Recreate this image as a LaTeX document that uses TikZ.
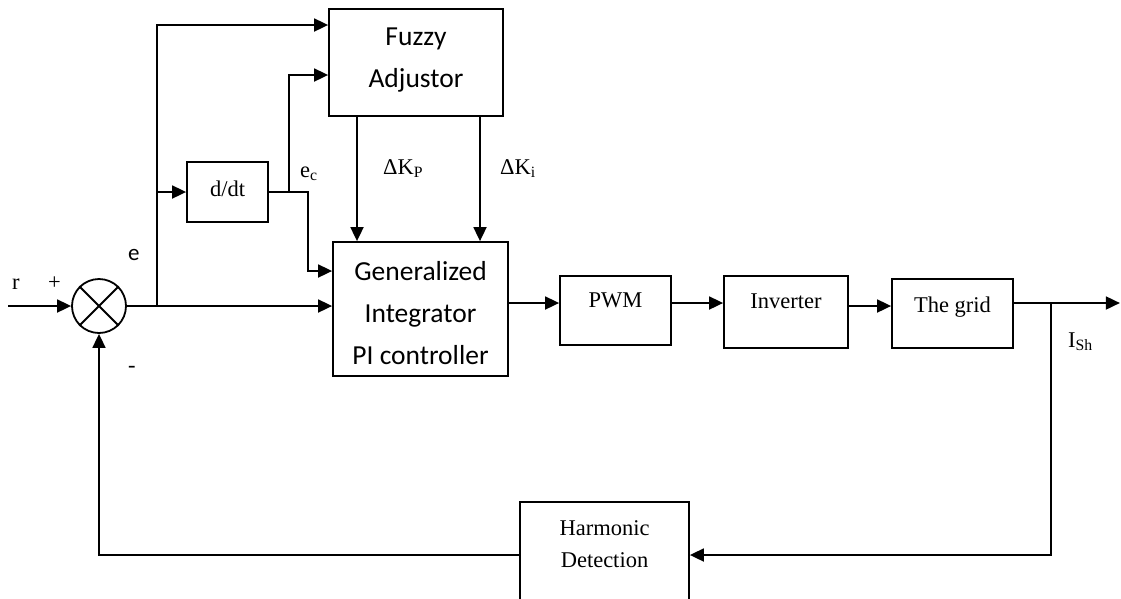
\documentclass[tikz,border=0pt]{standalone}
\usepackage{fontspec}
\setmainfont{Liberation Serif}
\newfontfamily\calibfont{Carlito}
\usetikzlibrary{arrows.meta}
\tikzset{
block/.style={
  draw,
  rectangle,
  line width=1.8pt,
  inner sep=0pt,
  font=\fontsize{22.5}{27}\selectfont
},
fblock/.style={block, font=\calibfont\fontsize{27.5}{42}\selectfont, text height=20pt},
tblock/.style={block, text height=16pt, text depth=23pt},
link/.style={line width=1.8pt},
arr/.style={link, -{Triangle[length=14pt,width=13pt]}},
lbl/.style={anchor=base west, inner sep=0pt, font=\fontsize{22.5}{27}\selectfont},
%sum/.style={draw,circle,minimum size=54pt},
}

\begin{document}
\begin{tikzpicture}[x=1pt,y=-1pt]
\useasboundingbox (0,0) rectangle (1121,598);
% the blocks
\node[fblock, text depth=55pt, minimum width=174pt, minimum height=107pt] (fuzzy) at (416,62.5)
  {\begin{tabular}[t]{@{}c@{}}Fuzzy\\Adjustor\end{tabular}};
\node[fblock, text depth=78pt, minimum width=175pt, minimum height=134pt] (gen) at (420.5,309)
  {\begin{tabular}[t]{@{}c@{}}Generalized\\Integrator\\PI controller\end{tabular}};
\node[block, minimum width=81pt, minimum height=60pt, text height=16pt, text depth=8pt] (ddt) at (227.5,192) {d/dt};
\node[tblock, minimum width=111pt, minimum height=69pt] (pwm) at (615.5,310.5) {PWM};
\node[tblock, minimum width=124pt, minimum height=72pt] (inv) at (786,312) {Inverter};
\node[tblock, text depth=19pt, minimum width=121pt, minimum height=69pt] (grid) at (952.5,313.5) {The grid};
\node[block, minimum width=169pt, minimum height=106pt, text height=18pt, text depth=58pt] (harm) at (604.5,555)
  {\begin{tabular}[t]{@{}c@{}}Harmonic\\[5pt]Detection\end{tabular}};
\node[draw, circle, line width=1.8pt, minimum size=54pt, inner sep=0pt] (sum) at (99,306) {};
\draw[link] (sum.45) -- (sum.225) (sum.135) -- (sum.315);

% the labels
\node[lbl] (r) at (12,289) {r};
\node[lbl] (plus) at (48,289) {+};
\node[lbl, font=\calibfont\fontsize{23}{26}\selectfont] (e) at (128,260) {e};
\node[lbl] (minus) at (128,372) {-};
\node[lbl] (ec) at (300,177) {e\textsubscript{c}};
\node[lbl] (dkp) at (383,174) {ΔK\textsubscript{P}};
\node[lbl] (dki) at (500,174) {ΔK\textsubscript{i}};
\node[lbl] (ish) at (1068,347) {I\textsubscript{Sh}};

% the arrows
\coordinate (in) at (8,306);
\coordinate (e1) at (157,306);
\draw[arr] (in) -- (sum.west);
\draw[arr] (sum.east) -- (e1) -- (e1 -| gen.west);
\draw[arr] (e1) |- ([yshift=37.5pt]fuzzy.west);
\draw[arr] (e1 |- ddt.west) -- (ddt.west);
\draw[arr] (ddt.east) -- ++(20,0) |- ([yshift=-12.5pt]fuzzy.west);
\draw[arr] (ddt.east) -- ++(39,0) |- ([yshift=38pt]gen.west);

\coordinate (kpc) at ([xshift=-59pt]fuzzy.south);
\coordinate (kic) at ([xshift=64pt]fuzzy.south);
\draw[arr] (kpc) -- (kpc |- gen.north);
\draw[arr] (kic) -- (kic |- gen.north);

\coordinate (u1) at ([yshift=6pt]gen.east);
\coordinate (u2) at ([yshift=7.5pt]pwm.east);
\coordinate (u3) at ([yshift=6pt]inv.east);
\coordinate (u4) at ([yshift=10.5pt]grid.east);
\draw[arr] (u1) -- (u1 -| pwm.west);
\draw[arr] (u2) -- (u2 -| inv.west);
\draw[arr] (u3) -- (u3 -| grid.west);

\coordinate (isb) at ([xshift=37pt]u4);
\coordinate (yout) at ([xshift=106pt]u4);
\draw[arr] (u4) -- (yout);
\draw[arr] (isb) |- (harm.east);
\draw[arr] (harm.west) -| (sum.south);

\end{tikzpicture}
\end{document}
